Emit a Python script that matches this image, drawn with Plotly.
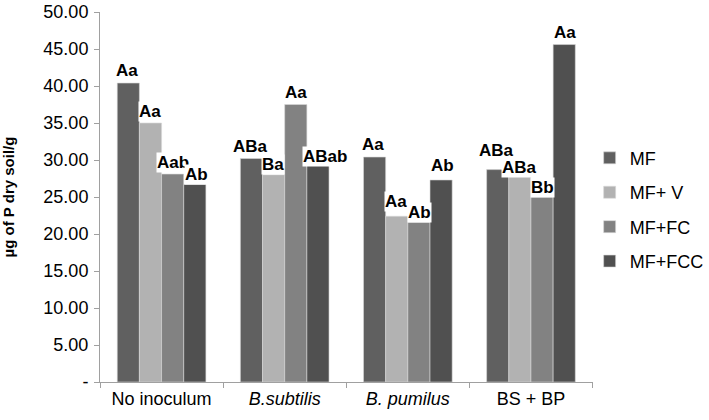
import plotly.graph_objects as go

categories = ["No inoculum", "<i>B.subtilis</i>", "<i>B. pumilus</i>", "BS + BP"]
series_names = ["MF", "MF+ V", "MF+FC", "MF+FCC"]
mf = [40.4, 30.2, 30.4, 28.7]
mf_v = [35.0, 28.0, 22.4, 28.6]
mf_fc = [28.1, 37.5, 21.6, 25.0]
mf_fcc = [26.7, 29.5, 27.3, 45.6]
labels_mf = ["Aa", "ABa", "Aa", "ABa"]
labels_mf_v = ["Aa", "Ba", "Aa", "ABa"]
labels_mf_fc = ["Aab", "Aa", "Ab", "Bb"]
labels_mf_fcc = ["Ab", "ABab", "Ab", "Aa"]
tick_vals = [0, 5, 10, 15, 20, 25, 30, 35, 40, 45, 50]
tick_text = ["-", "5.00", "10.00", "15.00", "20.00", "25.00", "30.00", "35.00", "40.00", "45.00", "50.00"]

colors = ["#606060", "#b2b2b2", "#828282", "#505050"]
values = [mf, mf_v, mf_fc, mf_fcc]
texts = [labels_mf, labels_mf_v, labels_mf_fc, labels_mf_fcc]

# layout geometry (pixels)
W, H = 709, 420
ML, MR, MT, MB = 100, 0, 12, 38
PLOT_RIGHT = 611
BARGAP = 0.28
paper_w = W - ML - MR
plot_w = PLOT_RIGHT - ML
x_dom_end = plot_w / paper_w
bar_px = plot_w / len(categories) * (1 - BARGAP) / len(series_names)

# label placement nudges (series index, category index) -> (dx, dy) in px
base_dy = 12
nudge = {(0, 3): (0, 7), (1, 3): (0, -9), (1, 2): (0, 3), (1, 1): (0, -2),
         (3, 1): (6, -5), (2, 2): (0, -2), (2, 3): (0, -2), (3, 0): (0, -2),
         (3, 2): (0, 2), (0, 0): (0, 1), (0, 2): (0, 1)}

fig = go.Figure()
for i, name in enumerate(series_names):
    fig.add_trace(go.Bar(
        x=categories, y=values[i], name=name,
        marker=dict(color=colors[i], line=dict(color="#d8d8d8", width=0.6)),
        legendgroup=name,
    ))

for i in range(len(series_names)):
    for j, cat in enumerate(categories):
        dx, dy = nudge.get((i, j), (0, 0))
        fig.add_annotation(
            x=cat, y=values[i][j], xref="x", yref="y",
            text="<b>" + texts[i][j] + "</b>", showarrow=False,
            xanchor="center", yanchor="middle",
            xshift=(i - (len(series_names) - 1) / 2) * bar_px + dx,
            yshift=base_dy + dy,
            font=dict(family="Liberation Sans, Arial", size=17, color="black"),
            bgcolor="white", borderpad=0,
        )

fig.update_layout(
    width=W, height=H,
    margin=dict(l=ML, r=MR, t=MT, b=MB),
    paper_bgcolor="white", plot_bgcolor="white",
    barmode="group", bargap=BARGAP, bargroupgap=0,
    font=dict(family="Liberation Sans, Arial", size=18, color="black"),
    showlegend=True,
    legend=dict(x=(608 - ML) / paper_w, y=0.655, xanchor="left", yanchor="top",
                font=dict(size=18), traceorder="grouped", tracegroupgap=8,
                itemwidth=30, bgcolor="rgba(0,0,0,0)"),
    xaxis=dict(domain=[0, x_dom_end], showline=True, linecolor="#a0a0a0", linewidth=1,
               ticks="outside", ticklen=5, tickcolor="#a0a0a0",
               tickson="boundaries", tickfont=dict(size=18), automargin=False),
    yaxis=dict(range=[0, 50], tickvals=tick_vals, ticktext=tick_text,
               showline=True, linecolor="#a0a0a0", linewidth=1,
               ticks="outside", ticklen=5, tickcolor="#a0a0a0",
               showgrid=False, zeroline=False, tickfont=dict(size=18),
               ticklabelstandoff=2, automargin=False,
               title=dict(text="<b>µg of P dry soil/g</b>", font=dict(size=15), standoff=32)),
)

fig.write_html("out.html", config={"displayModeBar": False},
               post_script="document.body.style.margin='0px';")
